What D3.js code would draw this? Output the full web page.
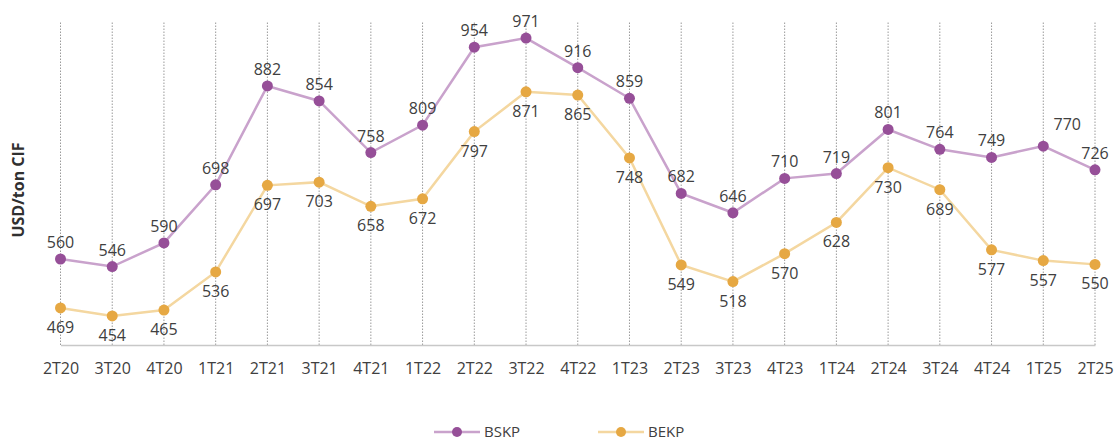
<!doctype html>
<meta charset=utf8>
<title>BSKP / BEKP</title>
<style>
  html, body { margin: 0; background: #fff; }
  svg { display: block; font-family: "Open Sans", sans-serif; }
  .grid line { stroke: #9a9a9a; stroke-dasharray: 1.5 1.5; }
  .lbl { font-size: 16px; fill: #404040; text-anchor: middle; }
  .tick text { font-size: 16px; fill: #404040; font-family: "Open Sans", sans-serif; }
</style>
<svg width=1117 height=442></svg>
<script src=https://d3js.org/d3.v7.min.js></script>
<script>
  var quarters = ['2T20', '3T20', '4T20', '1T21', '2T21', '3T21', '4T21', '1T22', '2T22', '3T22', '4T22',
    '1T23', '2T23', '3T23', '4T23', '1T24', '2T24', '3T24', '4T24', '1T25', '2T25'];
  var bskp = [560, 546, 590, 698, 882, 854, 758, 809, 954, 971, 916, 859, 682, 646, 710, 719, 801, 764, 749, 770, 726];
  var bekp = [469, 454, 465, 536, 697, 703, 658, 672, 797, 871, 865, 748, 549, 518, 570, 628, 730, 689, 577, 557, 550];

  var series = [
    { name: 'BSKP', values: bskp, dot: '#964f98', line: '#c9a2cc', above: true },
    { name: 'BEKP', values: bekp, dot: '#e6a843', line: '#f4d7a0', above: false }
  ];

  var svg = d3.select('svg');

  var x = d3.scalePoint().domain(quarters).range([60.5, 1095]);
  var y = d3.scaleLinear().domain([400, 1000]).range([345, 22.5]);

  // dotted verticals
  svg.append('g').attr('class', 'grid')
    .selectAll('line').data(quarters).enter().append('line')
    .attr('x1', x).attr('x2', x)
    .attr('y1', y(1000)).attr('y2', y(400));

  var xAxis = svg.append('g')
    .attr('transform', 'translate(0,' + y(400) + ')')
    .call(d3.axisBottom(x).tickSize(0).tickPadding(18));
  xAxis.select('.domain').attr('stroke', '#c8c8c8').attr('stroke-width', 1.5);

  svg.append('text')
    .attr('transform', 'translate(24,' + 190 + ') rotate(-90)')
    .attr('text-anchor', 'middle')
    .attr('font-size', 16)
    .attr('font-weight', 'bold')
    .attr('fill', '#303030')
    .text('USD/ton CIF');

  var line = d3.line().x(function (d, i) { return x(quarters[i]); }).y(function (d) { return y(d); });

  series.forEach(function (s) {
    svg.append('path')
      .datum(s.values)
      .attr('d', line)
      .attr('fill', 'none')
      .attr('stroke', s.line)
      .attr('stroke-width', 2.5);

    svg.append('g').selectAll('circle').data(s.values).enter().append('circle')
      .attr('cx', function (d, i) { return x(quarters[i]); })
      .attr('cy', y)
      .attr('r', 5.5)
      .attr('fill', s.dot);

    svg.append('g').selectAll('text').data(s.values).enter().append('text')
      .attr('class', 'lbl')
      .attr('x', function (d, i) {
        // 770 label in the source sits off to the right
        return x(quarters[i]) + (s.above && quarters[i] === '1T25' ? 24 : 0);
      })
      .attr('y', function (d, i) {
        var off = s.above ? -11 : 25;
        if (s.above && quarters[i] === '1T25') off = -16;
        return y(d) + off;
      })
      .text(function (d) { return d; });
  });

  // legend
  var legend = svg.append('g').attr('transform', 'translate(0,432)');
  var lx = [434, 598];
  series.forEach(function (s, i) {
    var g = legend.append('g').attr('transform', 'translate(' + lx[i] + ',0)');
    g.append('line').attr('x1', 0).attr('x2', 46).attr('stroke', s.line).attr('stroke-width', 2.5);
    g.append('circle').attr('cx', 23).attr('r', 5).attr('fill', s.dot);
    g.append('text').attr('x', 50).attr('dy', '0.36em')
      .attr('font-size', 15).attr('fill', '#404040').text(s.name);
  });
</script>
